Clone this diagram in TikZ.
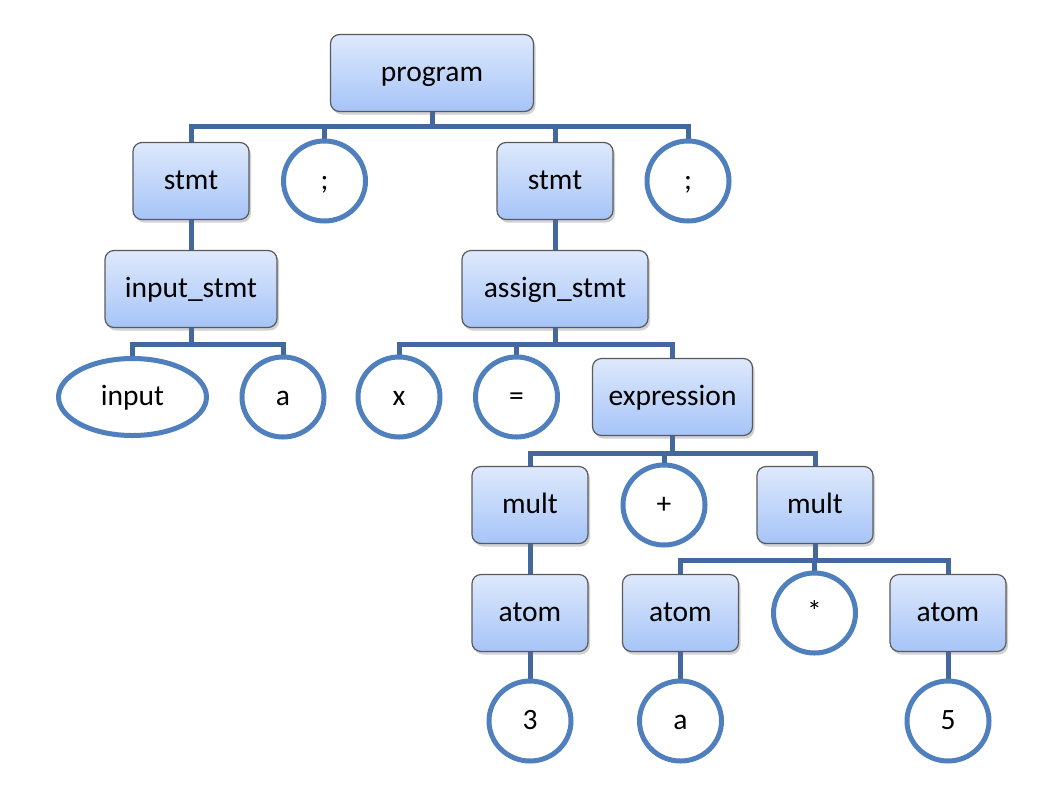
\documentclass[tikz,border=0pt]{standalone}
\usepackage{fontspec}
\setmainfont{Carlito}
\usetikzlibrary{shadows,backgrounds,shapes.geometric}
\definecolor{boxtop}{RGB}{222,233,252}
\definecolor{boxbot}{RGB}{166,196,248}
\definecolor{boxline}{RGB}{90,90,90}
\definecolor{linkc}{RGB}{67,104,158}
\definecolor{ringc}{RGB}{79,128,189}
\begin{document}
\begin{tikzpicture}[x=1pt,y=-1pt,
  lbl/.style={font=\fontsize{29.5}{35}\selectfont, text height=23pt, text depth=6.5pt},
  box/.style={lbl, draw=boxline, line width=1.2pt, rounded corners=9pt,
    top color=boxtop, bottom color=boxbot, minimum height=77pt,
    minimum width=116pt, inner sep=0pt,
    drop shadow={shadow xshift=2pt, shadow yshift=-3pt, opacity=0.3, fill=black!60}},
  leaf/.style={lbl, ellipse, draw=ringc, line width=5pt, fill=white,
    minimum width=82pt, minimum height=80pt, inner sep=0pt},
  link/.style={draw=linkc, line width=5pt}]
\useasboundingbox (0,0) rectangle (1062,804);
% row 1
\node[box, minimum width=203pt] (program) at (432,73) {program};
% row 2
\node[box] (stmtA) at (191,181) {stmt};
\node[leaf] (semiA) at (324.5,181) {;};
\node[box] (stmtB) at (555,181) {stmt};
\node[leaf] (semiB) at (688,181) {;};
% row 3
\node[box, minimum width=172pt] (inputstmt) at (191,289) {input\_stmt};
\node[box, minimum width=186pt] (assign) at (555,289) {assign\_stmt};
% row 4
\node[leaf, minimum width=148pt, minimum height=77pt] (input) at (132.5,397) {input};
\node[leaf] (aA) at (283,397) {a};
\node[leaf] (x) at (399,397) {x};
\node[leaf] (eq) at (516.5,397) {=};
\node[box, minimum width=160pt] (expr) at (672.5,397) {expression};
% row 5
\node[box] (multA) at (530,505) {mult};
\node[leaf] (plus) at (664,505) {+};
\node[box] (multB) at (815,505) {mult};
% row 6
\node[box] (atomA) at (530,613) {atom};
\node[box] (atomB) at (680.5,613) {atom};
\node[leaf] (star) at (814.5,613) {*};
\node[box] (atomC) at (948,613) {atom};
% row 7
\node[leaf] (three) at (530,721) {3};
\node[leaf] (aB) at (680.5,721) {a};
\node[leaf] (five) at (948,721) {5};
% bus levels
\coordinate (busA) at (0,126);
\coordinate (busB) at (0,344);
\coordinate (busC) at (0,453);
\coordinate (busD) at (0,560);
\begin{pgfonlayer}{background}
  \foreach \c in {stmtA,semiA,stmtB,semiB}
    \draw[link] (program.south) -- (program |- busA) -| (\c.north);
  \draw[link] (stmtA.south) -- (inputstmt.north);
  \draw[link] (stmtB.south) -- (assign.north);
  \foreach \c in {input,aA}
    \draw[link] (inputstmt.south) -- (inputstmt |- busB) -| (\c.north);
  \foreach \c in {x,eq,expr}
    \draw[link] (assign.south) -- (assign |- busB) -| (\c.north);
  \foreach \c in {multA,plus,multB}
    \draw[link] (expr.south) -- (expr |- busC) -| (\c.north);
  \draw[link] (multA.south) -- (atomA.north);
  \foreach \c in {atomB,star,atomC}
    \draw[link] (multB.south) -- (multB |- busD) -| (\c.north);
  \draw[link] (atomA.south) -- (three.north);
  \draw[link] (atomB.south) -- (aB.north);
  \draw[link] (atomC.south) -- (five.north);
\end{pgfonlayer}
\end{tikzpicture}
\end{document}
